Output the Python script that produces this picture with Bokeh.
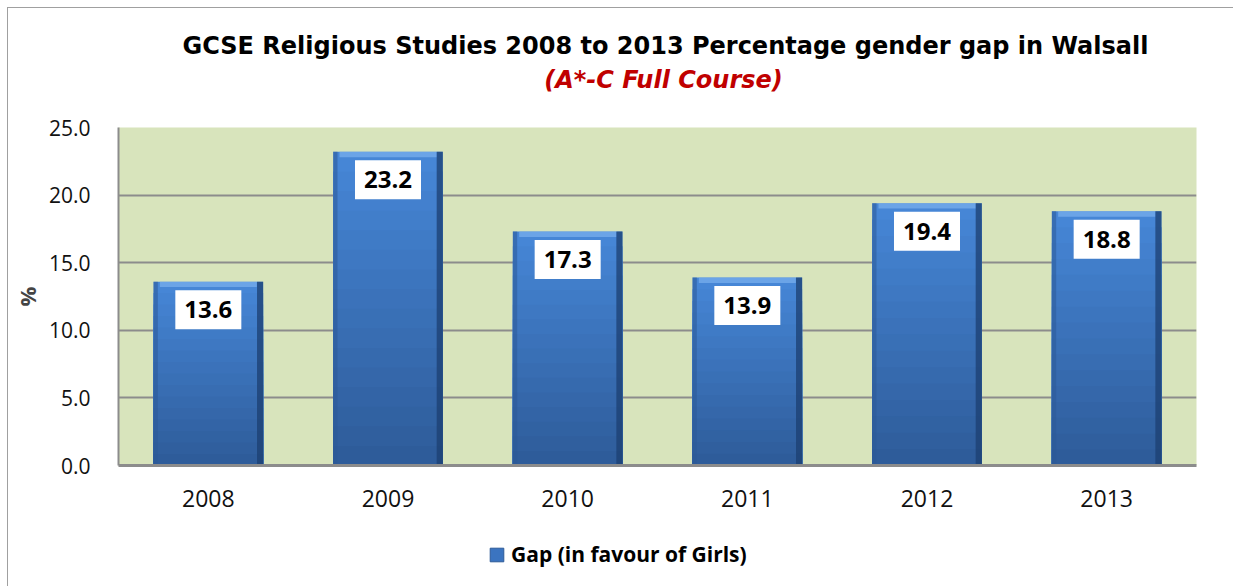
from bokeh.plotting import figure
from bokeh.layouts import column
from bokeh.models import (ColumnDataSource, FactorRange, Range1d, FixedTicker, NumeralTickFormatter,
                          Legend, LegendItem)
from bokeh.core.properties import value
from bokeh.transform import dodge
from bokeh.embed import file_html
from bokeh.resources import INLINE

years = ["2008", "2009", "2010", "2011", "2012", "2013"]
gaps = [13.6, 23.2, 17.3, 13.9, 19.4, 18.8]
series_name = "Gap (in favour of Girls)"
title_text = "GCSE Religious Studies 2008 to 2013 Percentage gender gap in Walsall"
subtitle_text = "(A*-C Full Course)"
y_ticks = [0, 5, 10, 15, 20, 25]

W = 1225
H0, H1, H2 = 100, 415, 63
FL, FR = 108, 1188   # frame left / right inside each figure (frames are aligned by the column)

# ---- title strip (pixel coordinates) ----
p0 = figure(width=W, height=H0, x_range=Range1d(FL, FR), y_range=Range1d(0, H0),
            output_backend="svg", toolbar_location=None, x_axis_type=None, y_axis_type=None,
            min_border=0)
p0.outline_line_color = None
p0.grid.grid_line_color = None
p0.background_fill_color = "white"
p0.text(x=[656], y=[H0 - 37], text=[title_text], text_align="center", text_baseline="middle",
        text_font=value("DejaVu Sans"), text_font_style="bold", text_font_size="24px",
        text_color="black")
p0.text(x=[654], y=[H0 - 71], text=[subtitle_text], text_align="center", text_baseline="middle",
        text_font=value("DejaVu Sans"), text_font_style="bold italic", text_font_size="24px",
        text_color="#c00000")

# ---- main chart ----
p = figure(width=W, height=H1, x_range=FactorRange(*years, range_padding=0),
           y_range=Range1d(0, 25), output_backend="svg", toolbar_location=None,
           min_border_left=FL, min_border_right=W - FR, min_border_top=19, min_border_bottom=58)
p.background_fill_color = "#d8e4bc"
p.border_fill_color = "white"
p.outline_line_color = None

p.yaxis.ticker = FixedTicker(ticks=y_ticks)
p.yaxis.formatter = NumeralTickFormatter(format="0.0")
p.yaxis.axis_label = "%"
p.yaxis.axis_label_text_font = "Open Sans"
p.yaxis.axis_label_text_font_style = "bold"
p.yaxis.axis_label_text_font_size = "22px"
p.yaxis.axis_label_standoff = 4
for ax in (p.xaxis[0], p.yaxis[0]):
    ax.major_label_text_font = "Open Sans"
    ax.major_label_text_color = "#111111"
    ax.major_tick_line_color = None
    ax.minor_tick_line_color = None
    ax.axis_line_color = "#8c8c8c"
p.yaxis.major_label_text_font_size = "21px"
p.xaxis.major_label_text_font_size = "23px"
p.yaxis.axis_line_width = 2
p.xaxis.axis_line_width = 3
p.yaxis.major_label_standoff = 22
p.xaxis.major_label_standoff = 18
p.xgrid.grid_line_color = None
p.ygrid.ticker = FixedTicker(ticks=y_ticks)
p.ygrid.grid_line_color = "#8c8c8c"
p.ygrid.grid_line_width = 2

src = ColumnDataSource(dict(x=years, top=gaps, label=[f"{g:.1f}" for g in gaps]))
bw = 0.61
# vertical gradient (style only): full bar in light colour, shorter darker bars on top of it
top_c = (0x47, 0x88, 0xd8)
bot_c = (0x2e, 0x5b, 0x98)
N = 16
for k in range(N, 0, -1):
    f1 = k / N
    t = (k - 0.5) / N
    col = "#%02x%02x%02x" % tuple(int(bot_c[i] + (top_c[i] - bot_c[i]) * t) for i in range(3))
    s = ColumnDataSource(dict(x=years, top=[g * f1 for g in gaps]))
    p.vbar(x="x", top="top", bottom=0, width=bw, source=s, fill_color=col, line_color=None)
# bevel edges
p.vbar(x=dodge("x", -bw / 2 + 0.012, range=p.x_range), top="top", width=0.024, source=src,
       fill_color="#2c5a97", fill_alpha=0.55, line_color=None)
p.vbar(x=dodge("x", bw / 2 - 0.017, range=p.x_range), top="top", width=0.034, source=src,
       fill_color="#1c3f70", fill_alpha=0.75, line_color=None)
ptop = ColumnDataSource(dict(x=years, top=gaps, bottom=[g - 0.4 for g in gaps]))
p.vbar(x="x", top="top", bottom="bottom", width=bw - 0.07, source=ptop,
       fill_color="#80b4f0", fill_alpha=0.65, line_color=None)

p.text(x="x", y="top", text="label", source=src, y_offset=28, text_align="center",
       text_baseline="middle", text_font=value("Open Sans"), text_font_style="bold",
       text_font_size="24px", text_color="black", background_fill_color="white",
       padding=dict(left=9, right=9, top=11, bottom=11))

# ---- legend strip ----
p2 = figure(width=W, height=H2, output_backend="svg", toolbar_location=None,
            x_range=Range1d(0, 1), y_range=Range1d(0, 1),
            x_axis_type=None, y_axis_type=None, min_border=0)
p2.outline_line_color = None
p2.grid.grid_line_color = None
p2.background_fill_color = "white"
dummy = p2.vbar(x=[0.5], top=[0], bottom=[0], width=0, fill_color="#3b74c0", line_color="#2e5b98")
legend = Legend(items=[LegendItem(label=series_name, renderers=[dummy])], orientation="horizontal",
                location=(370, 18), label_text_font="Open Sans", label_text_font_style="bold",
                label_text_font_size="21px", label_text_color="black",
                glyph_width=17, glyph_height=17, border_line_color=None,
                background_fill_alpha=0, margin=0, padding=4, label_standoff=6)
p2.add_layout(legend)

layout = column(p0, p, p2, margin=(8, 0, 0, 8), spacing=0,
                styles={"outline": "1px solid #a0a0a0"})

open("out.html", "w").write(file_html(layout, INLINE))
